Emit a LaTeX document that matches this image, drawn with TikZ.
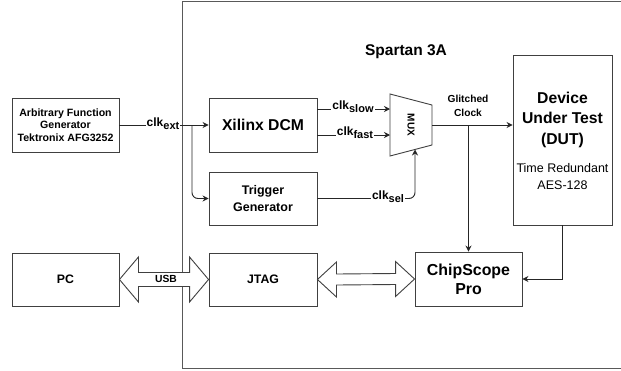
\documentclass[tikz,border=0pt]{standalone}
\usepackage{fontspec}
\setmainfont{Liberation Sans}
\usetikzlibrary{arrows.meta,calc}
\newcommand{\clksub}[1]{clk\raisebox{-3pt}{\fontsize{11}{11}\selectfont #1}}
\tikzset{
  box/.style={draw=black!75, line width=0.9pt, align=center, inner sep=0pt},
  conn/.style={draw=black!85, line width=0.9pt, -{Stealth[length=6pt,width=6pt,inset=2pt]}},
  wire/.style={draw=black!85, line width=0.9pt},
  lbl/.style={fill=white, inner sep=1pt, font=\bfseries\fontsize{12}{12}\selectfont},
  dbl/.style={draw=black!75, line width=0.9pt, fill=white, line join=miter},
}
\begin{document}
\begin{tikzpicture}[x=1pt,y=-1pt]
\clip (0,0) rectangle (621,370);
\fill[white] (0,0) rectangle (621,370);
% Spartan region
\draw[draw=black!65, line width=1pt] (640,1.5) -- (182,1.5) -- (182,368.5) -- (640,368.5);
\node[font=\bfseries\fontsize{15.5}{18}\selectfont] (spartan) at (406,52) {Spartan 3A};

% boxes
\node[box, minimum width=107pt, minimum height=54pt, font=\bfseries\fontsize{10.6}{12.6}\selectfont] (afg) at (65.5,125) {Arbitrary Function\\Generator\\Tektronix AFG3252};
\node[box, minimum width=108pt, minimum height=54pt, font=\bfseries\fontsize{15.7}{18}\selectfont] (dcm) at (263,125) {Xilinx DCM};
\node[box, minimum width=108pt, minimum height=53pt, font=\bfseries\fontsize{12.5}{16.5}\selectfont] (trg) at (263,198.5) {Trigger\\Generator};
\node[box, minimum width=99pt, minimum height=170pt] (dut) at (562.5,140) {};
\node[font=\bfseries\fontsize{15.7}{20.5}\selectfont, align=center] (dutt) at (562.5,119.5) {Device\\Under Test\\(DUT)};
\node[font=\fontsize{12.5}{17}\selectfont, align=center] (dutd) at (562.5,176.5) {Time Redundant\\AES-128};
\node[box, minimum width=107pt, minimum height=54pt, font=\bfseries\fontsize{15.9}{19}\selectfont] (csp) at (468.5,279) {ChipScope\\Pro};
\node[box, minimum width=108pt, minimum height=53pt, font=\bfseries\fontsize{12.3}{14}\selectfont] (jtag) at (263,279.5) {JTAG};
\node[box, minimum width=107pt, minimum height=53pt, font=\bfseries\fontsize{12.3}{14}\selectfont] (pc) at (65.5,279.5) {PC};

% MUX
\coordinate (m1) at (390,94);
\coordinate (m2) at (432,105);
\coordinate (m3) at (432,145);
\coordinate (m4) at (390,156);
\draw[draw=black!75, line width=0.9pt, fill=white] (m1) -- (m2) -- (m3) -- (m4) -- cycle;
\node[rotate=-90, font=\bfseries\fontsize{10}{10}\selectfont] (muxt) at (411,125) {MUX};
\coordinate (muxA) at (390,109);
\coordinate (muxB) at (390,135);
\coordinate (muxS) at (415,149.5);
\coordinate (muxO) at (432,125);

% clk_ext
\draw[conn] (afg.east) -- (dcm.west);
\coordinate (br) at (192,125);
\draw[conn, rounded corners=6pt] (br) |- (trg.west);
\node[lbl] (lext) at (163,124) {\clksub{ext}};

% slow/fast
\draw[conn] (dcm.east |- muxA) -- (muxA);
\node[lbl] (lslow) at (353,107) {\clksub{slow}};
\draw[conn] (dcm.east |- muxB) -- (muxB);
\node[lbl] (lfast) at (355,133) {\clksub{fast}};

% clk_sel
\draw[conn, rounded corners=6pt] (trg.east) -| (muxS);
\node[lbl] (lsel) at (388,197) {\clksub{sel}};

% glitched clock
\draw[conn] (muxO) -- (dut.west |- muxO);
\node[font=\bfseries\fontsize{10.2}{14}\selectfont, align=center] (glt) at (468,106) {Glitched\\Clock};
\coordinate (gb) at (468.5,125);
\draw[conn] (gb) -- (csp.north);
\draw[conn] (dut.south) |- (csp.east);

% USB double arrow
\draw[dbl] (pc.east) -- ++(19,-22.5) -- ++(0,15.5) -- ($(jtag.west)+(-19,-7)$) -- ++(0,-15.5) -- (jtag.west)
  -- ++(-19,22.5) -- ++(0,-15.5) -- ($(pc.east)+(19,7)$) -- ++(0,15.5) -- cycle;
\node[font=\bfseries\fontsize{10.3}{12}\selectfont] (usb) at (166,279) {USB};

% JTAG <-> ChipScope
\draw[dbl] (jtag.east) -- ++(19,-17.5) -- ++(0,12) -- ($(csp.west)+(-19,-5.5)$) -- ++(0,-12) -- (csp.west)
  -- ++(-19,17.5) -- ++(0,-12) -- ($(jtag.east)+(19,5.5)$) -- ++(0,12) -- cycle;
\end{tikzpicture}
\end{document}
